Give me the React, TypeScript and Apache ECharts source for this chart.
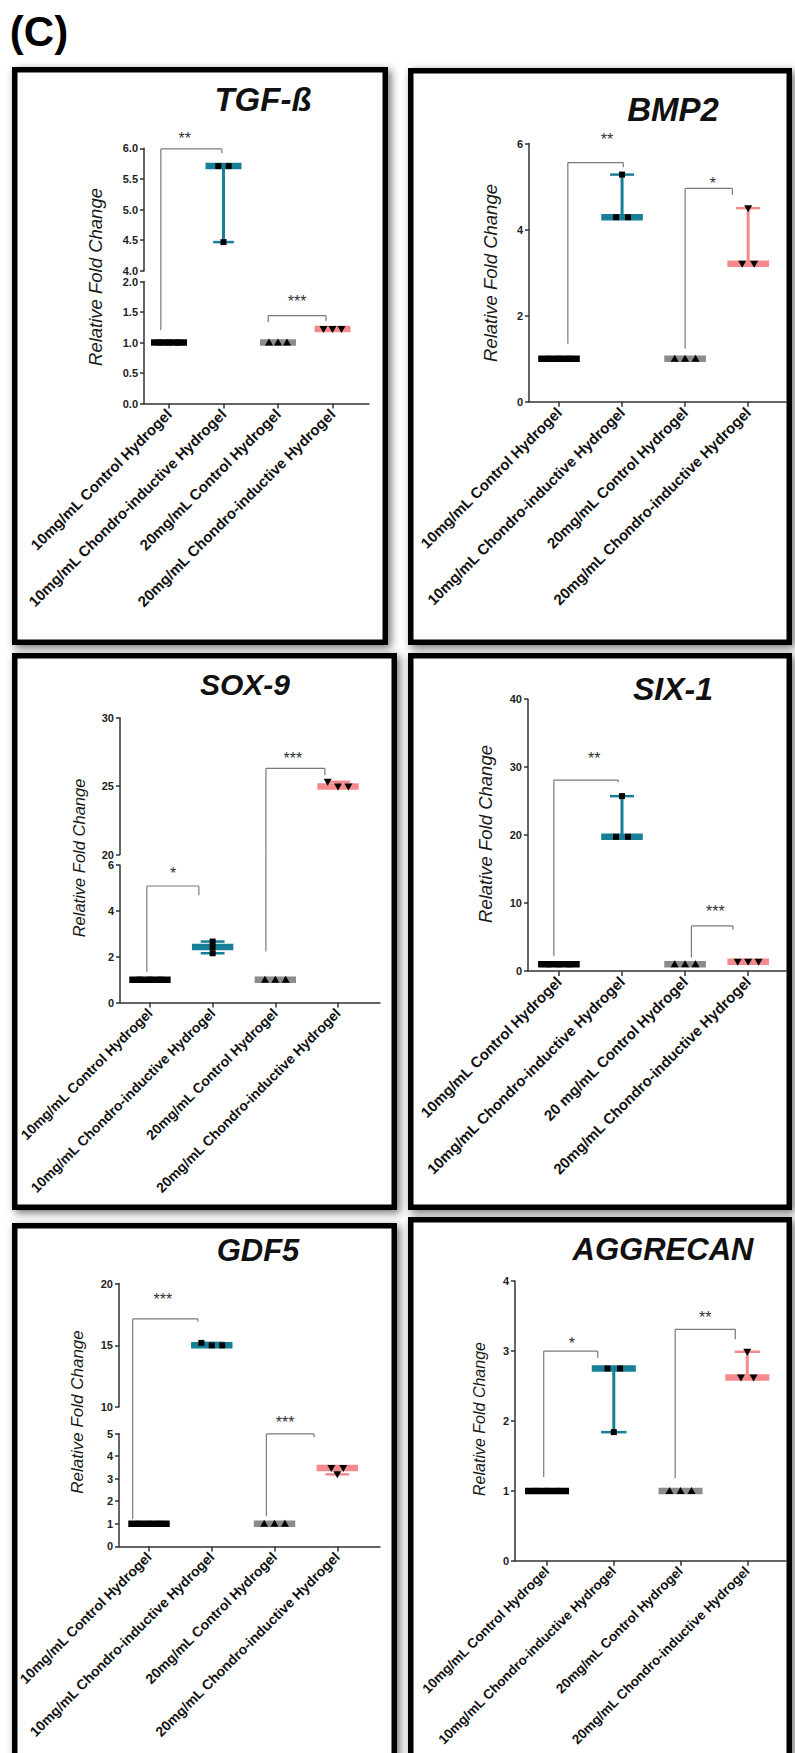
import React, { useEffect, useRef } from "react";
import * as echarts from "echarts";

const FONT = '"Liberation Sans", Arial, Helvetica, sans-serif';

// ---------------- categories ----------------
const categories = [
  "10mg/mL Control Hydrogel",
  "10mg/mL Chondro-inductive Hydrogel",
  "20mg/mL Control Hydrogel",
  "20mg/mL Chondro-inductive Hydrogel",
];
const categoriesSix1 = [
  "10mg/mL Control Hydrogel",
  "10mg/mL Chondro-inductive Hydrogel",
  "20 mg/mL Control Hydrogel",
  "20mg/mL Chondro-inductive Hydrogel",
];

// ---------------- replicate values (relative fold change) ----------------
const tgfValues = [[1, 1, 1], [5.71, 5.71, 4.47], [1, 1, 1], [1.22, 1.22, 1.22]];
const bmp2Values = [[1, 1, 1], [4.29, 4.29, 5.28], [1, 1, 1], [3.21, 3.21, 4.5]];
const sox9Values = [[1, 1, 1], [2.66, 2.42, 2.15], [1, 1, 1], [25.32, 24.97, 24.97]];
const six1Values = [[1, 1, 1], [19.76, 19.76, 25.74], [1, 1, 1], [1.36, 1.36, 1.36]];
const gdf5Values = [[1, 1, 1], [15.2, 15.0, 15.0], [1, 1, 1], [3.47, 3.19, 3.47]];
const aggrecanValues = [[1, 1, 1], [2.75, 2.75, 1.84], [1, 1, 1], [2.62, 2.62, 2.99]];

// ---------------- significance brackets (x in category units, y in data units) ----------------
type Bracket = { label: string; x1: number; x2: number; y1: number; top: number; y2: number; lx: number; ly: number };
const tgfBrackets: Bracket[] = [
  { label: "**", x1: -0.15, x2: 0.97, y1: 1.2, top: 5.99, y2: 5.92, lx: 0.29, ly: 6.23 },
  { label: "***", x1: 1.82, x2: 2.88, y1: 1.33, top: 1.44, y2: 1.35, lx: 2.35, ly: 1.75 },
];
const bmp2Brackets: Bracket[] = [
  { label: "**", x1: 0.14, x2: 1.02, y1: 1.35, top: 5.56, y2: 5.45, lx: 0.76, ly: 6.2 },
  { label: "*", x1: 2.0, x2: 2.75, y1: 1.24, top: 4.96, y2: 4.81, lx: 2.44, ly: 5.17 },
];
const sox9Brackets: Bracket[] = [
  { label: "*", x1: -0.05, x2: 0.78, y1: 1.34, top: 5.08, y2: 4.68, lx: 0.37, ly: 5.84 },
  { label: "***", x1: 1.85, x2: 2.79, y1: 2.23, top: 26.3, y2: 25.8, lx: 2.28, ly: 27.35 },
];
const six1Brackets: Bracket[] = [
  { label: "**", x1: -0.08, x2: 0.94, y1: 2.18, top: 28.1, y2: 27.76, lx: 0.56, ly: 32 },
  { label: "***", x1: 2.1, x2: 2.76, y1: 2.0, top: 6.64, y2: 6.1, lx: 2.48, ly: 9.5 },
];
const gdf5Brackets: Bracket[] = [
  { label: "***", x1: -0.26, x2: 0.78, y1: 1.2, top: 17.14, y2: 16.91, lx: 0.22, ly: 19.11 },
  { label: "***", x1: 1.87, x2: 2.63, y1: 1.33, top: 4.98, y2: 4.83, lx: 2.17, ly: 5.7 },
];
const aggrecanBrackets: Bracket[] = [
  { label: "*", x1: -0.05, x2: 0.76, y1: 1.2, top: 3.0, y2: 2.9, lx: 0.37, ly: 3.17 },
  { label: "**", x1: 1.92, x2: 2.82, y1: 1.18, top: 3.31, y2: 3.17, lx: 2.37, ly: 3.55 },
];

// ---------------- group styling ----------------
const groupColors = ["#000000", "#187f98", "#8c8c8c", "#f58a8c"];
const groupMarkers = ["square", "square", "triangle", "triangleDown"];

// ---------------- layout ----------------
type Seg = { min: number; max: number; interval: number; top: number; height: number };
type Panel = {
  title: string; titleX: number; titleY: number; titleSize: number;
  frame: [number, number, number, number];
  left: number; width: number; xMin: number; xMax: number;
  segs: Seg[]; decimals: number;
  nameX: number; nameY: number; nameSize: number; labelSize: number;
  cats: string[]; values: number[][]; brackets: Bracket[];
};

const panels: Panel[] = [
  {
    title: "TGF-ß", titleX: 263, titleY: 99, titleSize: 33, frame: [12, 67, 388, 645],
    left: 144, width: 225, xMin: -0.459, xMax: 3.67,
    segs: [
      { min: 0, max: 2, interval: 0.5, top: 281.5, height: 122 },
      { min: 4, max: 6, interval: 0.5, top: 148.3, height: 122.6 },
    ],
    decimals: 1, nameX: 95, nameY: 277, nameSize: 18.5, labelSize: 15,
    cats: categories, values: tgfValues, brackets: tgfBrackets,
  },
  {
    title: "BMP2", titleX: 673, titleY: 109, titleSize: 33, frame: [408, 68, 792, 645],
    left: 529, width: 257, xMin: -0.476, xMax: 3.6,
    segs: [{ min: 0, max: 6, interval: 2, top: 143.6, height: 258.2 }],
    decimals: 0, nameX: 490, nameY: 273, nameSize: 18.5, labelSize: 15,
    cats: categories, values: bmp2Values, brackets: bmp2Brackets,
  },
  {
    title: "SOX-9", titleX: 245, titleY: 684, titleSize: 30, frame: [12, 653, 397, 1210],
    left: 120, width: 260, xMin: -0.478, xMax: 3.67,
    segs: [
      { min: 0, max: 6, interval: 2, top: 864.9, height: 137.7 },
      { min: 20, max: 30, interval: 5, top: 717.7, height: 136.9 },
    ],
    decimals: 0, nameX: 79, nameY: 858, nameSize: 16.5, labelSize: 14,
    cats: categories, values: sox9Values, brackets: sox9Brackets,
  },
  {
    title: "SIX-1", titleX: 673, titleY: 689, titleSize: 32, frame: [408, 653, 792, 1210],
    left: 528, width: 258, xMin: -0.49, xMax: 3.6,
    segs: [{ min: 0, max: 40, interval: 10, top: 699.2, height: 271.9 }],
    decimals: 0, nameX: 485, nameY: 834, nameSize: 18.5, labelSize: 15,
    cats: categoriesSix1, values: six1Values, brackets: six1Brackets,
  },
  {
    title: "GDF5", titleX: 258, titleY: 1250, titleSize: 31, frame: [12, 1223, 397, 1770],
    left: 119, width: 261, xMin: -0.478, xMax: 3.68,
    segs: [
      { min: 0, max: 5, interval: 1, top: 1433.5, height: 112.9 },
      { min: 10, max: 20, interval: 5, top: 1283.6, height: 123.5 },
    ],
    decimals: 0, nameX: 77, nameY: 1412, nameSize: 17, labelSize: 14,
    cats: categories, values: gdf5Values, brackets: gdf5Brackets,
  },
  {
    title: "AGGRECAN", titleX: 663, titleY: 1249, titleSize: 31, frame: [408, 1217, 792, 1770],
    left: 515, width: 271, xMin: -0.48, xMax: 3.58,
    segs: [{ min: 0, max: 4, interval: 1, top: 1281.1, height: 279.7 }],
    decimals: 0, nameX: 479, nameY: 1419, nameSize: 16, labelSize: 13.5,
    cats: categories, values: aggrecanValues, brackets: aggrecanBrackets,
  },
];

const AXIS_COLOR = "#333333";

function median(v: number[]) {
  const s = [...v].sort((a, b) => a - b);
  return s[Math.floor(s.length / 2)];
}

function segIndexOf(segs: Seg[], v: number) {
  let r = 0;
  segs.forEach((sg, i) => {
    if (v >= sg.min) r = i;
  });
  return r;
}

function marker(kind: string, x: number, y: number) {
  if (kind === "square") {
    return { type: "rect", shape: { x: x - 3, y: y - 3, width: 6, height: 6 }, style: { fill: "#000" } };
  }
  if (kind === "triangle") {
    return { type: "polygon", shape: { points: [[x, y - 4], [x - 4, y + 3], [x + 4, y + 3]] }, style: { fill: "#000" } };
  }
  return { type: "polygon", shape: { points: [[x, y + 4], [x - 4, y - 3], [x + 4, y - 3]] }, style: { fill: "#000" } };
}

function groupRender(params: any, api: any) {
  const g = api.value(0) as number;
  const med = api.value(1) as number;
  const mn = api.value(2) as number;
  const mx = api.value(3) as number;
  const vals = [api.value(4), api.value(5), api.value(6)] as number[];
  const color = groupColors[g];
  const bw = (api.size([1, 0]) as number[])[0];
  const cMed = api.coord([g, med]);
  const cx = cMed[0];
  const children: any[] = [];
  const yMin = api.coord([g, mn])[1];
  const yMax = api.coord([g, mx])[1];
  if (Math.abs(yMin - yMax) > 1) {
    children.push({ type: "line", shape: { x1: cx, y1: yMin, x2: cx, y2: yMax }, style: { stroke: color, lineWidth: 3 } });
    const hw = bw * 0.19;
    [yMin, yMax].forEach((y) =>
      children.push({ type: "line", shape: { x1: cx - hw, y1: y, x2: cx + hw, y2: y }, style: { stroke: color, lineWidth: 2.5 } })
    );
  }
  const bhw = bw * 0.33;
  children.push({ type: "rect", shape: { x: cx - bhw, y: cMed[1] - 3.25, width: bhw * 2, height: 6.5 }, style: { fill: color } });
  const ys = vals.map((v) => api.coord([g, v])[1]);
  const idx = [0, 1, 2].sort((a, b) => ys[a] - ys[b]);
  const clusters: number[][] = [];
  idx.forEach((i) => {
    const last = clusters[clusters.length - 1];
    if (last && Math.abs(ys[i] - ys[last[last.length - 1]]) < 5) last.push(i);
    else clusters.push([i]);
  });
  clusters.forEach((cl) => {
    cl.sort((a, b) => a - b);
    const step = cl.length === 2 ? bw * 0.19 : bw * 0.165;
    cl.forEach((i, k) => {
      const x = cx + (k - (cl.length - 1) / 2) * step;
      children.push(marker(groupMarkers[g], x, ys[i]));
    });
  });
  return { type: "group", children };
}

function makeBracketRender(p: Panel, s: number) {
  const segs = p.segs;
  const gap = segs.length > 1 ? segs[0].top - (segs[1].top + segs[1].height) : 0;
  return (params: any, api: any) => {
    const b = p.brackets[api.value(0) as number];
    const children: any[] = [];
    const st = { stroke: "#7a7a7a", lineWidth: 1.2 };
    const sStart = segIndexOf(segs, b.y1);
    const sTop = segIndexOf(segs, b.top);
    const xl = api.coord([b.x1, segs[s].min])[0];
    const xr = api.coord([b.x2, segs[s].min])[0];
    if (sTop === s) {
      const yt = api.coord([0, b.top])[1];
      const ye = api.coord([0, b.y2])[1];
      children.push({ type: "line", shape: { x1: xl, y1: yt, x2: xr, y2: yt }, style: st });
      children.push({ type: "line", shape: { x1: xr, y1: yt, x2: xr, y2: ye }, style: st });
      const ys = sStart === s ? api.coord([0, b.y1])[1] : api.coord([0, segs[s].min])[1];
      children.push({ type: "line", shape: { x1: xl, y1: ys, x2: xl, y2: yt }, style: st });
    } else if (sStart === s) {
      const ys = api.coord([0, b.y1])[1];
      const yg = api.coord([0, segs[s].max])[1] - gap;
      children.push({ type: "line", shape: { x1: xl, y1: ys, x2: xl, y2: yg }, style: st });
    }
    if (segIndexOf(segs, b.ly) === s) {
      const c = api.coord([b.lx, b.ly]);
      children.push({
        type: "text",
        x: c[0],
        y: c[1] + 4.5,
        style: {
          text: b.label,
          font: `16px ${FONT}`,
          fill: "#333",
          align: "center",
          verticalAlign: "middle",
          textAlign: "center",
          textVerticalAlign: "middle",
        },
      });
    }
    return { type: "group", children };
  };
}

function buildOption() {
  const option: any = {
    animation: false,
    backgroundColor: "#ffffff",
    grid: [],
    xAxis: [],
    yAxis: [],
    series: [],
    graphic: [],
  };

  option.graphic.push({
    type: "text",
    x: 39,
    y: 31,
    z: 50,
    style: {
      text: "(C)",
      font: `bold 42px ${FONT}`,
      fill: "#000",
      align: "center",
      verticalAlign: "middle",
      textAlign: "center",
      textVerticalAlign: "middle",
    },
  });

  panels.forEach((p) => {
    const [l, t, r, b] = p.frame;
    option.graphic.push({
      type: "rect",
      z: -5,
      shape: { x: l, y: t, width: r - l, height: b - t },
      style: { fill: "#ffffff", shadowBlur: 8, shadowOffsetX: 3, shadowOffsetY: 3, shadowColor: "rgba(0,0,0,0.55)" },
    });
    option.graphic.push({
      type: "rect",
      z: 50,
      shape: { x: l + 2.75, y: t + 2.75, width: r - l - 5.5, height: b - t - 5.5 },
      style: { fill: "none", stroke: "#000", lineWidth: 5.5 },
    });
    option.graphic.push({
      type: "text",
      x: p.titleX,
      y: p.titleY,
      z: 50,
      style: {
        text: p.title,
        font: `italic bold ${p.titleSize}px ${FONT}`,
        fill: "#111",
        align: "center",
        verticalAlign: "middle",
        textAlign: "center",
        textVerticalAlign: "middle",
      },
    });
    option.graphic.push({
      type: "text",
      x: p.nameX,
      y: p.nameY,
      rotation: Math.PI / 2,
      z: 50,
      style: {
        text: "Relative Fold Change",
        font: `italic ${p.nameSize}px ${FONT}`,
        fill: "#1a1a1a",
        align: "center",
        verticalAlign: "middle",
        textAlign: "center",
        textVerticalAlign: "middle",
      },
    });

    p.segs.forEach((sg, s) => {
      const gi = option.grid.length;
      option.grid.push({
        left: p.left,
        top: sg.top,
        width: p.width,
        height: sg.height,
        containLabel: false,
        outerBoundsMode: "none",
      });
      option.xAxis.push({
        gridIndex: gi,
        type: "value",
        min: p.xMin,
        max: p.xMax,
        show: s === 0,
        position: "bottom",
        axisLine: { show: true, onZero: false, lineStyle: { color: AXIS_COLOR, width: 1.5 } },
        axisTick: { show: true, length: 5, customValues: [0, 1, 2, 3], lineStyle: { color: AXIS_COLOR, width: 1.5 } },
        axisLabel: {
          show: true,
          customValues: [0, 1, 2, 3],
          formatter: (v: number) => p.cats[Math.round(v)] ?? "",
          rotate: 45,
          margin: 8,
          fontSize: p.labelSize,
          fontWeight: "bold",
          fontFamily: FONT,
          color: "#111",
        },
        splitLine: { show: false },
      });
      option.yAxis.push({
        gridIndex: gi,
        type: "value",
        min: sg.min,
        max: sg.max,
        interval: sg.interval,
        axisLine: { show: true, onZero: false, lineStyle: { color: AXIS_COLOR, width: 1.5 } },
        axisTick: { show: true, length: 4, lineStyle: { color: AXIS_COLOR, width: 1.5 } },
        axisLabel: {
          margin: 6,
          fontSize: 11,
          fontWeight: "bold",
          fontFamily: FONT,
          color: "#222",
          formatter: (v: number) => v.toFixed(p.decimals),
        },
        splitLine: { show: false },
      });

      const items = p.values
        .map((vals, g) => ({ g, vals }))
        .filter((it) => segIndexOf(p.segs, median(it.vals)) === s)
        .map((it) => ({
          value: [it.g, median(it.vals), Math.min(...it.vals), Math.max(...it.vals), ...it.vals],
        }));

      option.series.push({
        type: "custom",
        xAxisIndex: gi,
        yAxisIndex: gi,
        clip: false,
        silent: true,
        z: 2,
        renderItem: makeBracketRender(p, s),
        data: p.brackets.map((_, i) => ({ value: [i, sg.min] })),
      });
      option.series.push({
        type: "custom",
        xAxisIndex: gi,
        yAxisIndex: gi,
        clip: false,
        silent: true,
        z: 3,
        renderItem: groupRender,
        data: items,
      });
    });
  });

  return option;
}

export default function App() {
  const ref = useRef<HTMLDivElement>(null);
  useEffect(() => {
    if (!ref.current) return;
    const chart = echarts.init(ref.current, undefined, { renderer: "svg" });
    chart.setOption(buildOption());
    return () => {
      chart.dispose();
    };
  }, []);
  return (
    <div
      ref={ref}
      style={{ position: "absolute", left: 0, top: 0, width: 795, height: 1753, background: "#ffffff" }}
    />
  );
}
